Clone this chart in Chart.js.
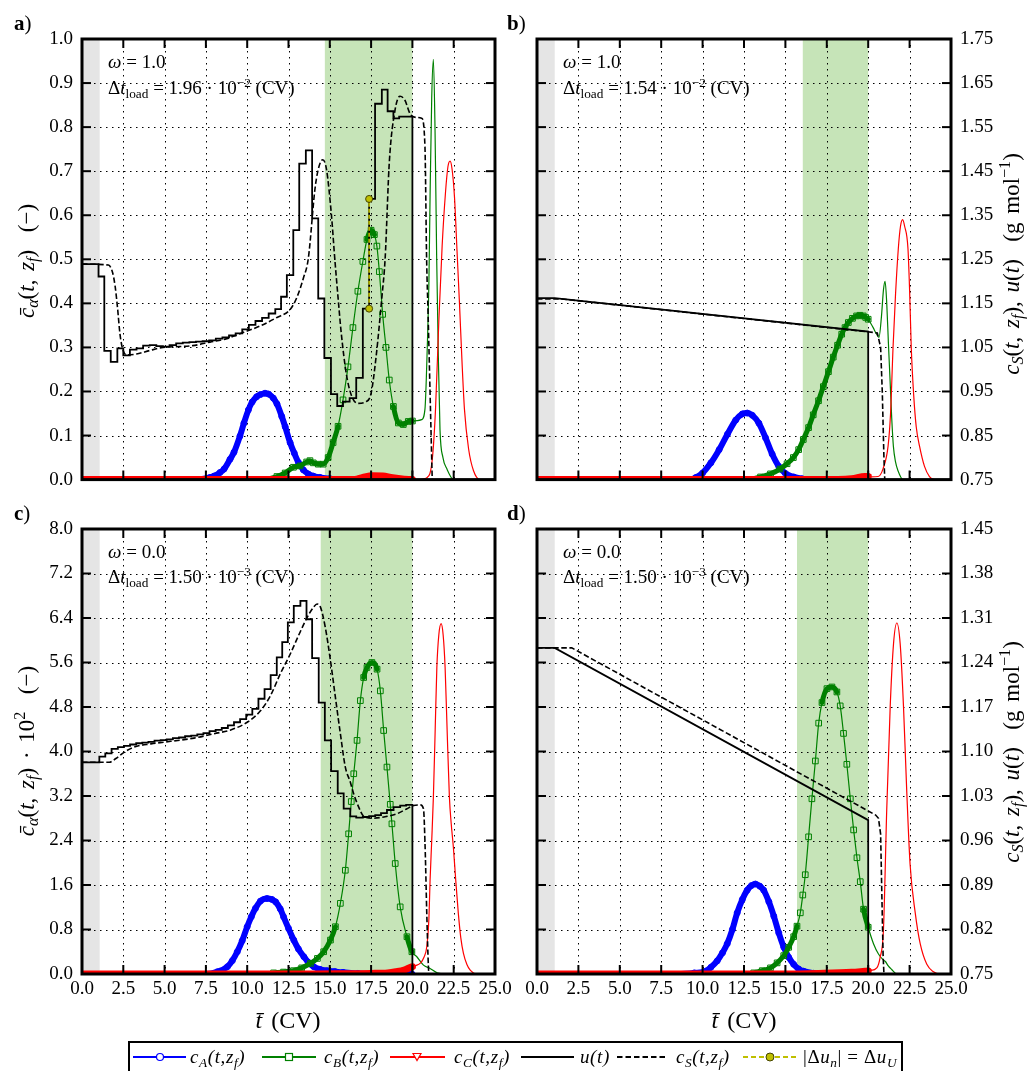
<!DOCTYPE html>
<html><head><meta charset="utf-8">
<script src="https://cdn.jsdelivr.net/npm/chart.js@4.4.1/dist/chart.umd.min.js"></script>
<style>
html,body{margin:0;padding:0;background:#fff;}
#wrap{position:relative;width:1032px;height:1071px;overflow:hidden;font-family:"Liberation Serif","DejaVu Serif",serif;color:#000;}
canvas{position:absolute;}
.t{position:absolute;white-space:nowrap;line-height:1;}
.pl{font-size:21px;}
.ann{font-size:19px;}
.ax{font-size:23px;word-spacing:3px;}
.lg{font-size:19px;font-style:italic;letter-spacing:0.6px;}
sub{font-size:0.7em;vertical-align:-0.3em;line-height:0;}
sup{font-size:0.7em;vertical-align:0.5em;line-height:0;}
.rot{transform:translate(-50%,-50%) rotate(-90deg);}
.ctr{transform:translate(-50%,-50%);}
.up{font-style:normal;}
</style></head>
<body><div id="wrap">
<canvas id="pa" width="516" height="500" style="left:0;top:0;width:516px;height:500px"></canvas>
<canvas id="pb" width="516" height="500" style="left:516px;top:0;width:516px;height:500px"></canvas>
<canvas id="pc" width="516" height="540" style="left:0;top:500px;width:516px;height:540px"></canvas>
<canvas id="pd" width="516" height="540" style="left:516px;top:500px;width:516px;height:540px"></canvas>

<div class="t pl" style="left:14px;top:13px"><b>a</b>)</div>
<div class="t pl" style="left:507px;top:13px"><b>b</b>)</div>
<div class="t pl" style="left:14px;top:503px"><b>c</b>)</div>
<div class="t pl" style="left:507px;top:503px"><b>d</b>)</div>

<div class="t ann" style="left:108px;top:52px"><i>ω</i> = 1.0</div>
<div class="t ann" style="left:108px;top:78px">Δ<i>t</i><sub>load</sub> = 1.96 · 10<sup>−2</sup> (CV)</div>
<div class="t ann" style="left:563px;top:52px"><i>ω</i> = 1.0</div>
<div class="t ann" style="left:563px;top:78px">Δ<i>t</i><sub>load</sub> = 1.54 · 10<sup>−2</sup> (CV)</div>
<div class="t ann" style="left:108px;top:542px"><i>ω</i> = 0.0</div>
<div class="t ann" style="left:108px;top:567px">Δ<i>t</i><sub>load</sub> = 1.50 · 10<sup>−3</sup> (CV)</div>
<div class="t ann" style="left:563px;top:542px"><i>ω</i> = 0.0</div>
<div class="t ann" style="left:563px;top:567px">Δ<i>t</i><sub>load</sub> = 1.50 · 10<sup>−3</sup> (CV)</div>

<div class="t ax rot" style="left:26px;top:261px"><i>c&#772;</i><sub><i>α</i></sub>(<i>t</i>, <i>z<sub>f</sub></i>) &nbsp;(−)</div>
<div class="t ax rot" style="left:26px;top:751px"><i>c&#772;</i><sub><i>α</i></sub>(<i>t</i>, <i>z<sub>f</sub></i>) · 10<sup>2</sup> &nbsp;(−)</div>
<div class="t ax rot" style="left:1011px;top:264px"><i>c<sub>S</sub></i>(<i>t</i>, <i>z<sub>f</sub></i>), <i>u</i>(<i>t</i>) &nbsp;(g mol<sup>−1</sup>)</div>
<div class="t ax rot" style="left:1011px;top:752px"><i>c<sub>S</sub></i>(<i>t</i>, <i>z<sub>f</sub></i>), <i>u</i>(<i>t</i>) &nbsp;(g mol<sup>−1</sup>)</div>
<div class="t ax ctr" style="left:288px;top:1020px;font-size:24px"><i>t&#772;</i> (CV)</div>
<div class="t ax ctr" style="left:744px;top:1020px;font-size:24px"><i>t&#772;</i> (CV)</div>

<div style="position:absolute;left:128px;top:1041px;width:771px;height:30px;border:2px solid #000;box-sizing:content-box"></div>
<svg style="position:absolute;left:0;top:1035px" width="1032" height="36">
  <line x1="133" y1="22" x2="186" y2="22" stroke="#0000ff" stroke-width="2"/>
  <circle cx="160" cy="22" r="3.5" fill="#fff" stroke="#0000ff" stroke-width="1.2"/>
  <line x1="262" y1="22" x2="316" y2="22" stroke="#008000" stroke-width="2"/>
  <rect x="285.5" y="18.5" width="7" height="7" fill="#fff" stroke="#008000" stroke-width="1.2"/>
  <line x1="390" y1="22" x2="445" y2="22" stroke="#ff0000" stroke-width="2"/>
  <polygon points="413,18.5 421,18.5 417,25.5" fill="#fff" stroke="#ff0000" stroke-width="1.2"/>
  <line x1="521" y1="22" x2="574" y2="22" stroke="#000" stroke-width="2"/>
  <line x1="617" y1="22" x2="667" y2="22" stroke="#000" stroke-width="2" stroke-dasharray="5.5 3"/>
  <line x1="743" y1="22" x2="798" y2="22" stroke="#bfbf00" stroke-width="2" stroke-dasharray="5 3"/>
  <circle cx="770" cy="22" r="4" fill="#bfbf00" stroke="#444400" stroke-width="1"/>
</svg>
<div class="t lg" style="left:190px;top:1047px">c<sub>A</sub>(t,z<sub>f</sub>)</div>
<div class="t lg" style="left:324px;top:1047px">c<sub>B</sub>(t,z<sub>f</sub>)</div>
<div class="t lg" style="left:454px;top:1047px">c<sub>C</sub>(t,z<sub>f</sub>)</div>
<div class="t lg" style="left:580px;top:1047px">u(t)</div>
<div class="t lg" style="left:676px;top:1047px">c<sub>S</sub>(t,z<sub>f</sub>)</div>
<div class="t lg" style="left:803px;top:1047px"><span class="up">|Δ</span>u<sub>n</sub><span class="up">| = Δ</span>u<sub>U</sub></div>
</div>

<script>
// ---------------- axis ticks ----------------
const X_TICKS = [0, 2.5, 5, 7.5, 10, 12.5, 15, 17.5, 20, 22.5, 25];
const X_TICK_LABELS = ['0.0','2.5','5.0','7.5','10.0','12.5','15.0','17.5','20.0','22.5','25.0'];
const Y_TICKS_TOP = [0, 0.1, 0.2, 0.3, 0.4, 0.5, 0.6, 0.7, 0.8, 0.9, 1.0];
const Y_LABELS_TOP = ['0.0','0.1','0.2','0.3','0.4','0.5','0.6','0.7','0.8','0.9','1.0'];
const Y1_TICKS_TOP = [0.75, 0.85, 0.95, 1.05, 1.15, 1.25, 1.35, 1.45, 1.55, 1.65, 1.75];
const Y1_LABELS_TOP = ['0.75','0.85','0.95','1.05','1.15','1.25','1.35','1.45','1.55','1.65','1.75'];
const Y_TICKS_BOT = [0, 0.8, 1.6, 2.4, 3.2, 4.0, 4.8, 5.6, 6.4, 7.2, 8.0];
const Y_LABELS_BOT = ['0.0','0.8','1.6','2.4','3.2','4.0','4.8','5.6','6.4','7.2','8.0'];
const Y1_TICKS_BOT = [0.75, 0.82, 0.89, 0.96, 1.03, 1.10, 1.17, 1.24, 1.31, 1.38, 1.45];
const Y1_LABELS_BOT = ['0.75','0.82','0.89','0.96','1.03','1.10','1.17','1.24','1.31','1.38','1.45'];

// ---------------- panel a (omega = 1.0) ----------------
const a_loadSpan = [0, 1.07];
const a_collectSpan = [14.7, 20.0];
const a_tA = [0,7.0,7.75,8.0,8.35,8.6,8.96,9.2,9.56,9.8,10.07,10.3,10.57,10.8,11.08,11.3,11.58,11.8,12.09,12.3,12.6,12.85,13.1,13.4,13.7,14.0,14.4,15.0,16.0,20.0,25.0];
const a_cA = [0,0,0.005,0.008,0.016,0.024,0.046,0.062,0.0987,0.128,0.158,0.176,0.188,0.193,0.196,0.194,0.185,0.172,0.1435,0.12,0.0837,0.06,0.039,0.022,0.0127,0.008,0.005,0.002,0,0,0];
const a_tB = [0,10.9,11.8,12.3,12.8,13.2,13.6,13.8,14.0,14.3,14.6,14.9,15.2,15.5,15.8,16.1,16.4,16.7,17.0,17.25,17.5,17.7,17.85,18.0,18.2,18.4,18.6,18.85,19.15,19.45,19.75,20.0,20.3,20.56,20.76,20.9,21.0,21.07,21.17,21.27,21.37,21.47,21.57,21.67,21.85,22.08,22.5,25];
const a_cB = [0,0,0.007,0.015,0.028,0.031,0.04,0.043,0.038,0.035,0.035,0.05,0.084,0.121,0.181,0.256,0.345,0.4275,0.495,0.545,0.566,0.556,0.53,0.472,0.375,0.30,0.226,0.166,0.1285,0.125,0.132,0.133,0.134,0.136,0.16,0.30,0.45,0.644,0.868,0.954,0.794,0.502,0.28,0.114,0.05,0.025,0,0];
const a_tC = [0,16.5,17.0,17.6,18.2,18.8,19.5,20.0,20.3,20.9,21.2,21.4,21.6,21.8,22.0,22.15,22.28,22.4,22.55,22.7,22.85,23.0,23.15,23.4,23.7,24.1,25];
const a_cC = [0,0,0.005,0.009,0.008,0.004,0.001,0,0,0.005,0.045,0.16,0.36,0.53,0.65,0.71,0.723,0.705,0.64,0.52,0.40,0.27,0.16,0.07,0.02,0,0];
const a_tU = [0,1.0,1.35,1.74,2.14,2.5,2.9,3.3,3.7,4.1,4.5,4.9,5.3,5.7,6.1,6.5,6.9,7.3,7.7,8.1,8.5,8.9,9.3,9.7,10.1,10.5,10.9,11.3,11.7,12.05,12.4,12.79,13.15,13.55,13.93,14.3,14.67,15.07,15.45,15.8,16.2,16.6,17.0,17.38,17.74,18.15,18.5,18.85,19.2,20.0];
const a_u  = [1.239,1.211,1.042,1.017,1.048,1.032,1.045,1.048,1.054,1.055,1.053,1.052,1.055,1.059,1.061,1.062,1.063,1.064,1.066,1.070,1.073,1.077,1.082,1.091,1.101,1.110,1.117,1.127,1.137,1.165,1.214,1.316,1.467,1.497,1.343,1.161,1.026,0.944,0.917,0.927,0.935,0.981,1.138,1.387,1.603,1.635,1.586,1.570,1.574,0.75];
const a_tS = [0,1.6,1.85,2.0,2.15,2.3,2.45,2.7,3.3,4.1,4.9,5.9,6.7,7.75,8.76,9.76,10.8,11.8,12.6,13.0,13.4,13.7,14.1,14.3,14.57,14.8,15.1,15.3,15.5,15.7,16.0,16.3,16.7,17.2,17.5,17.8,18.15,18.35,18.6,18.95,19.25,19.55,19.85,20.26,20.56,20.76,20.86,20.95,21.1,21.2];
const a_cS = [1.239,1.237,1.22,1.19,1.14,1.08,1.048,1.033,1.035,1.043,1.050,1.052,1.054,1.062,1.070,1.084,1.099,1.118,1.136,1.163,1.207,1.252,1.409,1.454,1.476,1.454,1.35,1.252,1.163,1.08,0.99,0.942,0.923,0.927,0.946,1.028,1.163,1.252,1.469,1.589,1.62,1.611,1.581,1.572,1.57,1.506,1.252,1.125,0.901,0.75];
const a_tD = [17.38, 17.38];
const a_dU = [1.138, 1.387];

// ---------------- panel b (omega = 1.0) ----------------
const b_loadSpan = [0, 1.07];
const b_collectSpan = [16.05, 20.0];
const b_tA = [0,9.2,9.6,10.0,10.5,11.0,11.5,12.0,12.4,12.7,13.0,13.4,13.8,14.2,14.6,15.0,15.5,16.0,16.5,20.0,25];
const b_cA = [0,0,0.005,0.015,0.038,0.068,0.103,0.135,0.149,0.151,0.146,0.128,0.095,0.058,0.03,0.014,0.006,0.002,0,0,0];
const b_tB = [0,12.6,13.5,14.1,14.67,15.1,15.48,15.8,16.08,16.4,16.68,17.0,17.29,17.6,17.89,18.15,18.4,18.6,18.8,19.05,19.3,19.5,19.7,19.85,20.0,20.15,20.3,20.45,20.65,20.8,20.92,21.02,21.12,21.22,21.32,21.42,21.52,21.65,21.8,22.1,25];
const b_cB = [0,0,0.006,0.013,0.024,0.036,0.05,0.068,0.091,0.118,0.147,0.179,0.211,0.245,0.278,0.305,0.33,0.345,0.3565,0.366,0.3715,0.373,0.3715,0.368,0.364,0.355,0.345,0.334,0.323,0.37,0.43,0.45,0.40,0.31,0.226,0.14,0.076,0.04,0.02,0,0];
const b_tC = [0,17,19.0,19.8,20.0,20.2,20.6,20.9,21.2,21.35,21.5,21.65,21.82,21.95,22.08,22.2,22.4,22.5,22.6,22.75,22.9,23.1,23.4,23.7,24.0,25];
const b_cC = [0,0,0.002,0.007,0.007,0.006,0.007,0.025,0.076,0.15,0.30,0.42,0.525,0.575,0.59,0.575,0.525,0.43,0.30,0.19,0.12,0.076,0.03,0.007,0,0];
const b_tU = [0,1.07,20.0,20.0];
const b_u  = [1.162,1.162,1.086,0.75];
const b_tS = [0,1.5,20.55,20.75,20.85,20.95,21.0];
const b_cS = [1.16,1.16,1.083,1.05,0.95,0.80,0.75];

// ---------------- panel c (omega = 0.0) ----------------
const c_loadSpan = [0, 1.07];
const c_collectSpan = [14.45, 20.0];
const c_tA = [0,7.5,8.19,8.8,9.1,9.4,9.7,10.0,10.25,10.5,10.8,11.2,11.5,11.72,12.0,12.2,12.5,12.82,13.1,13.43,13.7,14.03,14.4,14.84,15.3,15.8,16.7,17.5,20.0,25];
const c_cA = [0,0,0.04,0.13,0.24,0.4,0.6,0.85,1.03,1.18,1.31,1.357,1.34,1.297,1.17,1.03,0.82,0.61,0.45,0.31,0.21,0.13,0.085,0.06,0.045,0.03,0.01,0,0,0];
const c_tB = [0,11.0,11.6,12.2,12.8,13.3,13.83,14.25,14.63,15.04,15.34,15.64,15.94,16.14,16.3,16.45,16.65,16.85,17.05,17.25,17.55,17.86,18.06,18.26,18.46,18.66,18.76,18.96,19.26,19.67,19.97,20.27,20.67,21.07,21.5,22,25];
const c_cB = [0,0,0.02,0.035,0.06,0.11,0.19,0.28,0.4,0.61,0.85,1.27,1.865,2.52,3.1,3.6,4.2,4.915,5.33,5.51,5.6,5.48,5.09,4.377,3.72,3.05,2.7,1.986,1.207,0.67,0.4,0.31,0.16,0.1,0.02,0,0];
const c_tC = [0,14,16,17.5,18.5,19.0,19.5,19.9,20.0,20.2,20.5,20.7,20.87,21.0,21.07,21.17,21.27,21.38,21.48,21.6,21.74,21.86,21.98,22.1,22.24,22.35,22.48,22.62,22.78,22.93,23.09,23.3,23.5,23.9,25];
const c_cC = [0,0,0.005,0.01,0.02,0.04,0.07,0.12,0.13,0.15,0.2,0.3,0.49,1.0,1.686,2.4,3.18,4.4,5.51,6.1,6.3,6.1,5.51,4.4,3.18,2.7,2.28,1.7,1.09,0.65,0.37,0.17,0.07,0,0];
const c_tU = [0,1.05,1.41,1.79,2.17,2.54,2.91,3.28,3.65,4.02,4.39,4.76,5.13,5.5,5.87,6.24,6.61,6.98,7.35,7.72,8.09,8.46,8.83,9.2,9.57,9.94,10.31,10.68,11.05,11.42,11.79,12.12,12.46,12.82,13.22,13.59,13.93,14.33,14.7,15.08,15.48,15.84,16.24,16.6,17.0,17.38,17.75,18.1,18.46,18.86,19.26,19.62,20.0];
const c_u  = [1.083,1.092,1.097,1.104,1.107,1.109,1.111,1.113,1.114,1.115,1.117,1.118,1.119,1.121,1.122,1.124,1.125,1.127,1.129,1.132,1.134,1.137,1.141,1.146,1.151,1.158,1.167,1.183,1.198,1.220,1.248,1.272,1.303,1.329,1.337,1.308,1.247,1.177,1.1175,1.069,1.034,1.010,0.998,0.996,0.997,0.9985,1.000,1.003,1.008,1.0125,1.015,1.016,0.75];
const c_tS = [0,1.65,2.05,2.56,3.16,4.17,5.37,6.78,8.0,9.0,10.0,10.8,11.4,12.0,12.6,13.1,13.63,14.03,14.23,14.43,14.73,15.04,15.34,15.64,15.94,16.24,16.44,16.75,17.05,17.6,18.46,19.06,19.67,20.07,20.47,20.67,20.77,20.87,20.97,21.0];
const c_cS = [1.083,1.083,1.089,1.099,1.107,1.112,1.116,1.121,1.128,1.134,1.146,1.164,1.1875,1.222,1.253,1.282,1.311,1.3275,1.332,1.3275,1.295,1.243,1.185,1.128,1.0755,1.052,1.034,1.0125,0.998,0.995,0.998,1.002,1.010,1.015,1.016,1.010,0.9495,0.845,0.761,0.75];

// ---------------- panel d (omega = 0.0) ----------------
const d_loadSpan = [0, 1.07];
const d_collectSpan = [15.7, 20.0];
const d_tA = [0,8.5,9.5,10.18,10.5,10.88,11.2,11.49,11.8,12.09,12.4,12.69,12.95,13.19,13.45,13.69,14.0,14.3,14.6,14.9,15.2,15.5,15.8,16.1,16.7,17.5,20.0,25];
const d_cA = [0,0,0.02,0.05,0.12,0.235,0.38,0.545,0.8,1.1,1.34,1.506,1.59,1.617,1.58,1.506,1.3,1.04,0.74,0.483,0.3,0.174,0.09,0.05,0.012,0,0,0];
const d_tB = [0,12.5,13.09,13.6,14.1,14.5,14.9,15.2,15.5,15.7,15.9,16.05,16.2,16.4,16.6,16.81,17.01,17.21,17.51,17.81,18.11,18.31,18.51,18.71,18.92,19.12,19.32,19.52,19.72,20.0,20.32,20.62,20.92,21.05,21.2,21.42,21.73,25];
const d_cB = [0,0,0.02,0.06,0.11,0.2,0.33,0.48,0.67,0.86,1.1,1.42,1.785,2.466,3.15,3.83,4.51,4.88,5.13,5.16,5.07,4.82,4.325,3.77,3.15,2.59,2.09,1.66,1.165,0.84,0.545,0.36,0.25,0.22,0.15,0.08,0,0];
const d_tC = [0,15,17,19,19.8,20.0,20.1,20.52,20.72,20.92,21.12,21.33,21.53,21.73,21.93,22.13,22.33,22.53,22.84,23.14,23.54,23.94,24.3,25];
const d_cC = [0,0,0.01,0.03,0.05,0.055,0.06,0.11,0.3,0.79,2.96,4.82,5.94,6.31,5.94,4.82,3.27,1.97,1.1,0.545,0.174,0.04,0,0];
const d_tU = [0,1.07,20.0,20.0];
const d_u  = [1.263,1.263,0.992,0.75];
const d_tS = [0,2.1,20.45,20.62,20.75,20.82,20.9,20.95];
const d_cS = [1.263,1.263,1.0,0.995,0.97,0.88,0.78,0.75];

// ---------------- styling / building ----------------
const LOAD_COLOR = '#e5e5e5';
const COLLECT_COLOR = '#c6e4b8';
const FONT = {family: "'Liberation Serif', 'DejaVu Serif', serif", size: 19};

function pts(T, V) { return T.map((t, i) => ({x: t, y: V[i]})); }

function conc(T, V, color, style, rot, r, thickW, order) {
  return {
    data: pts(T, V), yAxisID: 'y', order,
    borderColor: color, borderWidth: 1.2, fill: false,
    cubicInterpolationMode: 'monotone', clip: 0,
    borderCapStyle: 'round', borderJoinStyle: 'round',
    pointStyle: style, rotation: rot,
    pointRadius: c => (T[c.dataIndex] <= 20.0001 && V[c.dataIndex] > 0) ? r : 0,
    pointBorderColor: color, pointBackgroundColor: 'rgba(0,0,0,0)', pointBorderWidth: 1,
    segment: {
      borderWidth: c => {
        if (T[c.p1DataIndex] > 20.0001) return 1.2;
        const dx = Math.abs(c.p1.x - c.p0.x), dy = Math.abs(c.p1.y - c.p0.y);
        return dy <= 4 * dx ? thickW : 1.2;
      }
    }
  };
}
function blackLine(T, V, dash, stepped, smooth, order) {
  return {
    data: pts(T, V), yAxisID: 'y1', order,
    borderColor: '#000', borderWidth: dash ? 1.6 : 1.8, borderDash: dash || [],
    fill: false, clip: 0, pointRadius: 0, stepped: stepped || false,
    tension: 0, cubicInterpolationMode: smooth ? 'monotone' : 'default'
  };
}

function deco(spans) {
  return {
    id: 'deco',
    beforeDraw(chart) {
      const {ctx, chartArea: A, scales} = chart;
      ctx.save();
      spans.forEach(s => {
        const x0 = scales.x.getPixelForValue(s.range[0]);
        const x1 = scales.x.getPixelForValue(s.range[1]);
        ctx.fillStyle = s.color;
        ctx.fillRect(x0, A.top, x1 - x0, A.bottom - A.top);
      });
      ctx.restore();
    },
    beforeDatasetsDraw(chart) {
      const {ctx, chartArea: A, scales} = chart;
      ctx.save();
      ctx.strokeStyle = '#000'; ctx.lineWidth = 1; ctx.setLineDash([1.5, 4.5]);
      scales.x.ticks.forEach(tk => {
        const p = Math.round(scales.x.getPixelForValue(tk.value)) + 0.5;
        if (p < A.left + 2 || p > A.right - 2) return;
        ctx.beginPath(); ctx.moveTo(p, A.top); ctx.lineTo(p, A.bottom); ctx.stroke();
      });
      scales.y.ticks.forEach(tk => {
        const p = Math.round(scales.y.getPixelForValue(tk.value)) + 0.5;
        if (p < A.top + 2 || p > A.bottom - 2) return;
        ctx.beginPath(); ctx.moveTo(A.left, p); ctx.lineTo(A.right, p); ctx.stroke();
      });
      ctx.restore();
    },
    afterDraw(chart) {
      const {ctx, chartArea: A, scales} = chart;
      ctx.save();
      ctx.strokeStyle = '#000'; ctx.lineWidth = 2; ctx.setLineDash([]);
      const L = 9;
      scales.x.ticks.forEach(tk => {
        const p = scales.x.getPixelForValue(tk.value);
        if (p < A.left + 2 || p > A.right - 2) return;
        ctx.beginPath(); ctx.moveTo(p, A.bottom); ctx.lineTo(p, A.bottom - L);
        ctx.moveTo(p, A.top); ctx.lineTo(p, A.top + L); ctx.stroke();
      });
      scales.y.ticks.forEach(tk => {
        const p = scales.y.getPixelForValue(tk.value);
        if (p < A.top + 2 || p > A.bottom - 2) return;
        ctx.beginPath(); ctx.moveTo(A.left, p); ctx.lineTo(A.left + L, p); ctx.stroke();
      });
      scales.y1.ticks.forEach(tk => {
        const p = scales.y1.getPixelForValue(tk.value);
        if (p < A.top + 2 || p > A.bottom - 2) return;
        ctx.beginPath(); ctx.moveTo(A.right, p); ctx.lineTo(A.right - L, p); ctx.stroke();
      });
      ctx.lineWidth = 3;
      ctx.strokeRect(A.left, A.top, A.right - A.left, A.bottom - A.top);
      ctx.restore();
    }
  };
}

function makePanel(id, P) {
  const datasets = [
    conc(P.tA, P.cA, '#0000ff', 'circle', 0, 3, 6, 9),
    conc(P.tB, P.cB, '#008000', 'rect', 0, 4, 5, 8),
    conc(P.tC, P.cC, '#ff0000', 'triangle', 180, 3.5, 7, 7),
    blackLine(P.tU, P.u, null, P.stepped ? 'before' : false, false, 6),
    blackLine(P.tS, P.cS, [5.5, 2.6], false, P.smoothS, 5)
  ];
  if (P.tD) {
    datasets.push({
      data: pts(P.tD, P.dU), yAxisID: 'y1', order: 1,
      borderColor: '#bfbf00', borderWidth: 1.6, borderDash: [4, 2], fill: false, clip: false,
      pointRadius: 3.5, pointBackgroundColor: '#bfbf00', pointBorderColor: '#444400', pointBorderWidth: 1
    });
  }
  new Chart(document.getElementById(id), {
    type: 'line',
    data: {datasets},
    options: {
      responsive: false, animation: false, devicePixelRatio: 1, events: [],
      layout: {padding: {top: P.padTop, bottom: 0, left: 0, right: 0}},
      plugins: {legend: {display: false}, tooltip: {enabled: false}},
      scales: {
        x: {
          type: 'linear', position: 'bottom', min: 0, max: 25,
          afterBuildTicks: s => { s.ticks = X_TICKS.map(v => ({value: v})); },
          afterFit: s => { s.height = P.xH; },
          grid: {display: false, drawTicks: false}, border: {display: false},
          ticks: {display: P.xLabels, autoSkip: false, maxRotation: 0, minRotation: 0, padding: 4,
                  font: FONT, color: '#000', callback: (v, i) => X_TICK_LABELS[i]}
        },
        y: {
          type: 'linear', position: 'left', min: P.yT[0], max: P.yT[P.yT.length - 1],
          afterBuildTicks: s => { s.ticks = P.yT.map(v => ({value: v})); },
          afterFit: s => { s.width = P.yW; },
          grid: {display: false, drawTicks: false}, border: {display: false},
          ticks: {display: P.yLabels, autoSkip: false, padding: 9, font: FONT, color: '#000',
                  callback: (v, i) => P.yL[i]}
        },
        y1: {
          type: 'linear', position: 'right', min: P.y1T[0], max: P.y1T[P.y1T.length - 1],
          afterBuildTicks: s => { s.ticks = P.y1T.map(v => ({value: v})); },
          afterFit: s => { s.width = P.y1W; },
          grid: {display: false, drawTicks: false}, border: {display: false},
          ticks: {display: P.y1Labels, autoSkip: false, padding: 9, font: FONT, color: '#000',
                  callback: (v, i) => P.y1L[i]}
        }
      }
    },
    plugins: [deco([{range: P.load, color: LOAD_COLOR}, {range: P.collect, color: COLLECT_COLOR}])]
  });
}

makePanel('pa', {tA: a_tA, cA: a_cA, tB: a_tB, cB: a_cB, tC: a_tC, cC: a_cC,
  tU: a_tU, u: a_u, tS: a_tS, cS: a_cS, tD: a_tD, dU: a_dU, stepped: true, smoothS: true,
  load: a_loadSpan, collect: a_collectSpan, padTop: 39, xH: 16, yW: 82, y1W: 21,
  xLabels: false, yLabels: true, y1Labels: false,
  yT: Y_TICKS_TOP, yL: Y_LABELS_TOP, y1T: Y1_TICKS_TOP, y1L: Y1_LABELS_TOP});
makePanel('pb', {tA: b_tA, cA: b_cA, tB: b_tB, cB: b_cB, tC: b_tC, cC: b_cC,
  tU: b_tU, u: b_u, tS: b_tS, cS: b_cS, stepped: false, smoothS: false,
  load: b_loadSpan, collect: b_collectSpan, padTop: 39, xH: 16, yW: 21, y1W: 81,
  xLabels: false, yLabels: false, y1Labels: true,
  yT: Y_TICKS_TOP, yL: Y_LABELS_TOP, y1T: Y1_TICKS_TOP, y1L: Y1_LABELS_TOP});
makePanel('pc', {tA: c_tA, cA: c_cA, tB: c_tB, cB: c_cB, tC: c_tC, cC: c_cC,
  tU: c_tU, u: c_u, tS: c_tS, cS: c_cS, stepped: true, smoothS: true,
  load: c_loadSpan, collect: c_collectSpan, padTop: 29, xH: 66, yW: 82, y1W: 21,
  xLabels: true, yLabels: true, y1Labels: false,
  yT: Y_TICKS_BOT, yL: Y_LABELS_BOT, y1T: Y1_TICKS_BOT, y1L: Y1_LABELS_BOT});
makePanel('pd', {tA: d_tA, cA: d_cA, tB: d_tB, cB: d_cB, tC: d_tC, cC: d_cC,
  tU: d_tU, u: d_u, tS: d_tS, cS: d_cS, stepped: false, smoothS: false,
  load: d_loadSpan, collect: d_collectSpan, padTop: 29, xH: 66, yW: 21, y1W: 81,
  xLabels: true, yLabels: false, y1Labels: true,
  yT: Y_TICKS_BOT, yL: Y_LABELS_BOT, y1T: Y1_TICKS_BOT, y1L: Y1_LABELS_BOT});
</script>
</body></html>
